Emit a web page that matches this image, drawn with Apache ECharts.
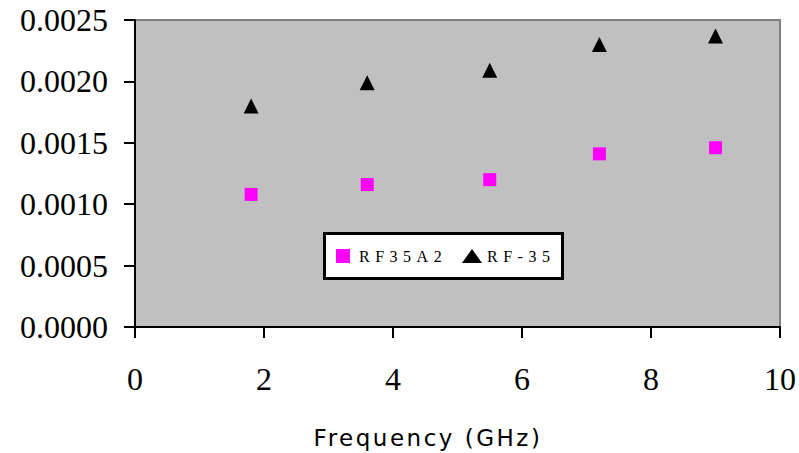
<!DOCTYPE html>
<html>
<head>
<meta charset="utf-8">
<script src="https://cdn.jsdelivr.net/npm/echarts@6/dist/echarts.min.js"></script>
<style>
html,body{margin:0;padding:0;background:#fff;}
#chart{width:799px;height:453px;}
</style>
</head>
<body>
<div id="chart"></div>
<script>
var frequency = [1.8, 3.6, 5.5, 7.2, 9.0];
var rf35a2 = [0.00108, 0.00116, 0.00120, 0.00141, 0.00146];
var rf35 = [0.00180, 0.00199, 0.00209, 0.00230, 0.00237];
var seriesNames = ['RF35A2', 'RF-35'];
var xTickLabels = ['0', '2', '4', '6', '8', '10'];
var yTickLabels = ['0.0000', '0.0005', '0.0010', '0.0015', '0.0020', '0.0025'];
var xTitle = 'Frequency (GHz)';

function pairs(xs, ys) { return xs.map(function (x, i) { return [x, ys[i]]; }); }

var chart = echarts.init(document.getElementById('chart'), null, { renderer: 'svg' });
var serif = "'Liberation Serif', 'Times New Roman', serif";
chart.setOption({
  animation: false,
  backgroundColor: '#ffffff',
  grid: {
    left: 135, right: 18, top: 20, bottom: 126,
    show: true, backgroundColor: '#c0c0c0', borderColor: '#808080', borderWidth: 2
  },
  xAxis: {
    type: 'value', min: 0, max: 10, interval: 2,
    axisLine: { show: true, onZero: false, lineStyle: { color: '#000', width: 2 } },
    axisTick: { show: true, length: 11, lineStyle: { color: '#000', width: 2 } },
    splitLine: { show: false },
    axisLabel: {
      margin: 36, color: '#000', fontFamily: serif, fontSize: 32,
      formatter: function (v) { return xTickLabels[Math.round(v / 2)]; }
    }
  },
  yAxis: {
    type: 'value', min: 0, max: 0.0025, interval: 0.0005,
    axisLine: { show: true, onZero: false, lineStyle: { color: '#000', width: 2 } },
    axisTick: { show: true, length: 11, lineStyle: { color: '#000', width: 2 } },
    splitLine: { show: false },
    axisLabel: {
      margin: 27, color: '#000', fontFamily: serif, fontSize: 32,
      formatter: function (v) { return yTickLabels[Math.round(v / 0.0005)]; }
    }
  },
  legend: [
    {
      data: [{ name: seriesNames[0], icon: 'rect' }],
      left: 336, top: 248, padding: 0, itemWidth: 14, itemHeight: 14,
      itemStyle: { opacity: 1 },
      textStyle: { fontFamily: serif, fontSize: 16, color: '#000', padding: [0, 0, 0, 4] }
    },
    {
      data: [{ name: seriesNames[1], icon: 'triangle' }],
      left: 462, top: 248, padding: 0, itemWidth: 20, itemHeight: 14,
      itemStyle: { opacity: 1 },
      textStyle: { fontFamily: serif, fontSize: 16, color: '#000' }
    }
  ],
  graphic: [
    {
      type: 'rect', z: 3,
      shape: { x: 324.5, y: 233.5, width: 238, height: 45 },
      style: { fill: '#ffffff', stroke: '#000000', lineWidth: 3 }
    },
    {
      type: 'text', z: 5,
      style: {
        x: 428, y: 438, text: xTitle, align: 'center', verticalAlign: 'middle',
        fontFamily: "'DejaVu Sans', sans-serif", fontSize: 23, fill: '#000'
      }
    }
  ],
  series: [
    {
      name: seriesNames[0], type: 'scatter', symbol: 'rect', symbolSize: 13,
      itemStyle: { color: '#ff00ff', opacity: 1 }, data: pairs(frequency, rf35a2)
    },
    {
      name: seriesNames[1], type: 'scatter', symbol: 'triangle', symbolSize: 15,
      itemStyle: { color: '#000000', opacity: 1 }, data: pairs(frequency, rf35)
    }
  ]
});

function spaceTexts() {
  var texts = document.querySelectorAll('#chart svg text');
  texts.forEach(function (t) {
    var c = t.textContent;
    if (c === seriesNames[0] || c === seriesNames[1]) {
      t.setAttribute('letter-spacing', '5.5');
    } else if (c === xTitle) {
      t.setAttribute('letter-spacing', '2.5');
    }
  });
}
chart.on('finished', spaceTexts);
spaceTexts();
setTimeout(spaceTexts, 50);
</script>
</body>
</html>
